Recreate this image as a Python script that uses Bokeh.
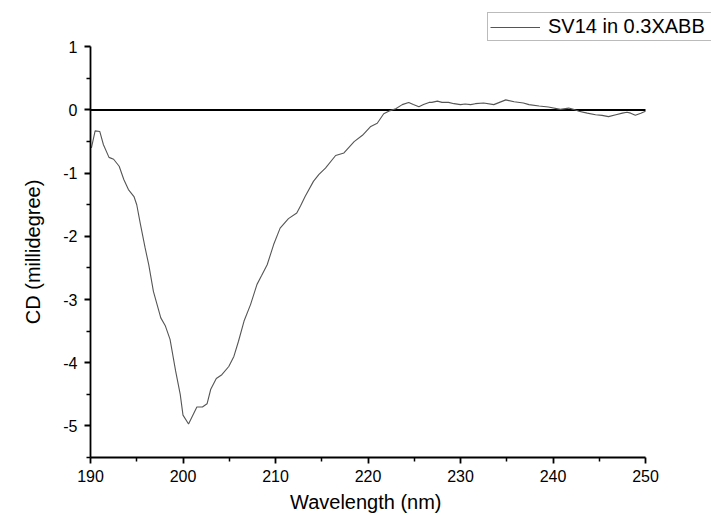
from bokeh.plotting import figure
from bokeh.models import Legend, LegendItem, FixedTicker, Range1d, Title
from bokeh.embed import file_html
from bokeh.resources import INLINE

wavelength = [190.1, 190.5, 191.0, 191.4, 192.0, 192.5, 193.1, 193.6, 194.1, 194.7,
              195.0, 195.4, 195.9, 196.3, 196.8, 197.6, 198.1, 198.6, 199.2, 199.7,
              200.0, 200.6, 201.5, 202.1, 202.6, 203.0, 203.6, 204.2, 204.95, 205.5,
              206.0, 206.6, 207.3, 208.0, 208.5, 209.1, 209.8, 210.5, 211.4, 212.3,
              212.7, 213.2, 214.1, 214.7, 215.4, 216.5, 217.4, 218.5, 219.4, 220.3,
              221.0, 221.7, 222.4, 223.0, 223.7, 224.4, 224.9, 225.5, 226.0, 226.6,
              226.9, 227.5, 228.0, 228.7, 229.3, 230.0, 230.5, 231.1, 231.6, 232.5,
              233.6, 234.9, 235.8, 236.8, 237.4, 238.5, 239.5, 240.8, 241.7, 242.2,
              242.8, 243.7, 244.6, 245.3, 246.0, 246.8, 247.5, 248.0, 248.4, 248.9,
              249.5, 250.0]
cd = [-0.60, -0.33, -0.34, -0.55, -0.75, -0.78, -0.89, -1.10, -1.26, -1.37,
      -1.50, -1.81, -2.18, -2.45, -2.87, -3.29, -3.42, -3.63, -4.13, -4.50,
      -4.83, -4.97, -4.70, -4.70, -4.65, -4.42, -4.25, -4.19, -4.06, -3.90,
      -3.66, -3.34, -3.08, -2.76, -2.62, -2.45, -2.13, -1.87, -1.72, -1.63,
      -1.52, -1.37, -1.13, -1.02, -0.92, -0.72, -0.68, -0.50, -0.40, -0.26,
      -0.21, -0.06, -0.01, 0.02, 0.085, 0.12, 0.085, 0.05, 0.085, 0.12,
      0.12, 0.14, 0.12, 0.12, 0.10, 0.085, 0.095, 0.085, 0.10, 0.11,
      0.085, 0.16, 0.13, 0.11, 0.085, 0.063, 0.047, 0.01, 0.03, 0.01,
      -0.02, -0.05, -0.075, -0.085, -0.105, -0.075, -0.05, -0.035, -0.05, -0.085,
      -0.05, -0.02]

x_ticks = [190, 200, 210, 220, 230, 240, 250]
x_minor = [195, 205, 215, 225, 235, 245]
y_ticks = [-5, -4, -3, -2, -1, 0, 1]
y_minor = [-5.5, -4.5, -3.5, -2.5, -1.5, -0.5, 0.5]
y_tick_labels = ["-5", "-4", "-3", "-2", "-1", "0", "1"]
x_lim = (190, 250)
y_lim = (-5.5, 1)
x_title = "Wavelength (nm)"
y_title = "CD (millidegree)"
series_name = "SV14 in 0.3XABB"

FONT = "Liberation Sans"

# frame fills the canvas up to its top and right edges so the legend is not clipped;
# the axes are bounded to the data limits
W, H = 711, 517
LEFT, BOTTOM = 90, 60
frame_w = W - LEFT
frame_h = H - BOTTOM
px_per_x = 555 / (x_lim[1] - x_lim[0])
px_per_y = 410.7 / (y_lim[1] - y_lim[0])
x_end = x_lim[0] + frame_w / px_per_x
y_end = y_lim[0] + frame_h / px_per_y

p = figure(width=W, height=H, output_backend="svg", toolbar_location=None,
           x_range=Range1d(x_lim[0], x_end), y_range=Range1d(y_lim[0], y_end),
           min_border_left=LEFT, min_border_right=0, min_border_top=0,
           min_border_bottom=BOTTOM)
p.outline_line_color = None
p.xgrid.visible = False
p.ygrid.visible = False
p.background_fill_color = "white"
p.border_fill_color = "white"

p.segment(x0=[x_lim[0]], y0=[0], x1=[x_lim[1]], y1=[0], line_color="black", line_width=2)
r = p.line(wavelength, cd, line_color="#555555", line_width=1.1)

p.xaxis.ticker = FixedTicker(ticks=x_ticks, minor_ticks=x_minor)
p.yaxis.ticker = FixedTicker(ticks=y_ticks, minor_ticks=y_minor)
p.yaxis.major_label_overrides = {t: s for t, s in zip(y_ticks, y_tick_labels)}
p.xaxis.bounds = x_lim
p.yaxis.bounds = y_lim

for ax in (p.xaxis, p.yaxis):
    ax.axis_line_color = "black"
    ax.axis_line_width = 1.8
    ax.major_tick_line_color = "black"
    ax.major_tick_line_width = 1.8
    ax.minor_tick_line_color = "black"
    ax.minor_tick_line_width = 1.5
    ax.major_tick_out = 6
    ax.major_tick_in = 0
    ax.minor_tick_out = 4
    ax.minor_tick_in = 0
    ax.major_label_text_font = FONT
    ax.major_label_text_font_size = "16px"
    ax.major_label_text_color = "black"

p.xaxis.major_label_standoff = 6
p.yaxis.major_label_standoff = 7

# axis titles centred on the bounded axes (not on the widened frame)
x_mid_px = (x_lim[1] - x_lim[0]) / 2 * px_per_x
y_mid_px = (y_lim[1] - y_lim[0]) / 2 * px_per_y
xt = Title(text=x_title, align="left", offset=x_mid_px - 78, standoff=9,
           text_font=FONT, text_font_size="20px", text_font_style="normal",
           text_color="black")
yt = Title(text=y_title, align="left", offset=y_mid_px - 72, standoff=34,
           text_font=FONT, text_font_size="20px", text_font_style="normal",
           text_color="black")
p.add_layout(xt, "below")
p.add_layout(yt, "left")

legend = Legend(items=[LegendItem(label=series_name, renderers=[r])],
                location=(397, 416), padding=2, margin=0, glyph_width=50,
                label_standoff=8, label_width=161, label_text_font=FONT,
                label_text_font_size="20px", label_text_color="black",
                border_line_color="#777777", border_line_width=1,
                background_fill_color="white", label_height=20, glyph_height=20)
p.add_layout(legend, "center")

open("out.html", "w").write(file_html(p, INLINE))
